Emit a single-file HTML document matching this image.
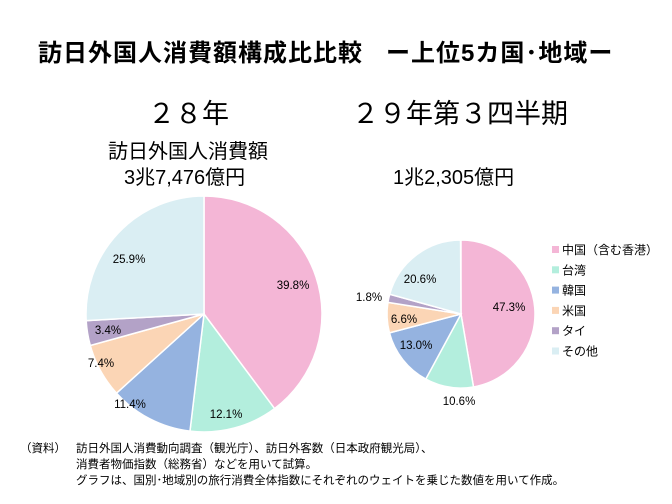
<!DOCTYPE html><html><head><meta charset="utf-8"><style>
body{margin:0;width:672px;height:504px;background:#fff;font-family:"Liberation Sans","Noto Sans CJK JP",sans-serif;position:relative;overflow:hidden}
.t{position:absolute;white-space:nowrap;color:#000}
</style></head><body>
<div class="t" style="left:38px;top:33px;font-size:24px;font-weight:bold;letter-spacing:1px">訪日外国人消費額構成比比較&nbsp;&nbsp;&nbsp;ー上位5カ国･地域ー</div>
<div class="t" style="left:148px;top:92px;font-size:27px">２８年</div>
<div class="t" style="left:352px;top:92px;font-size:27px">２９年第３四半期</div>
<div class="t" style="left:108px;top:135px;font-size:20px">訪日外国人消費額</div>
<div class="t" style="left:124px;top:161px;font-size:20px">3兆7,476億円</div>
<div class="t" style="left:393px;top:161px;font-size:20px">1兆2,305億円</div>
<svg id="s" width="672" height="504" style="position:absolute;left:0;top:0"></svg>
<div class="t" style="left:20px;top:441px;font-size:11.5px;line-height:16px">（資料）</div>
<div class="t" style="left:76px;top:441px;font-size:11.5px;line-height:16px">訪日外国人消費動向調査（観光庁）、訪日外客数（日本政府観光局）、<br>消費者物価指数（総務省）などを用いて試算。<br>グラフは、国別･地域別の旅行消費全体指数にそれぞれのウェイトを乗じた数値を用いて作成。</div>
<script>
var C=["#F4B6D6","#B3EEDD","#95B3E0","#FBD5B5","#B3A2C7","#DAEEF3"];
var s=document.getElementById("s"),h="";
function pie(cx,cy,r,v){var a=-Math.PI/2;v.forEach(function(p,i){var b=a+p/100*2*Math.PI;var x1=cx+r*Math.cos(a),y1=cy+r*Math.sin(a),x2=cx+r*Math.cos(b),y2=cy+r*Math.sin(b);h+='<path d="M'+cx+','+cy+'L'+x1+','+y1+'A'+r+','+r+' 0 '+(p>50?1:0)+' 1 '+x2+','+y2+'Z" fill="'+C[i]+'" stroke="#fff" stroke-width="1.5"/>';a=b;});}
pie(204,314,118,[39.8,12.1,11.4,7.4,3.4,25.9]);
pie(461,314,74,[47.3,10.6,13.0,6.6,1.8,20.6]);
var L=[[293,289,"39.8%"],[226,418,"12.1%"],[130,408,"11.4%"],[101,367,"7.4%"],[108,334,"3.4%"],[129,263,"25.9%"],[509,311,"47.3%"],[459,405,"10.6%"],[416,349,"13.0%"],[404,323,"6.6%"],[369,301,"1.8%"],[420,283,"20.6%"]];
L.forEach(function(l){h+='<text x="'+l[0]+'" y="'+l[1]+'" font-size="11.5" text-anchor="middle" font-family="Liberation Sans,sans-serif">'+l[2]+'</text>';});
var N=["中国（含む香港）","台湾","韓国","米国","タイ","その他"];
N.forEach(function(n,i){var y=250+i*20.3;h+='<rect x="552" y="'+(y-4)+'" width="7" height="7" fill="'+C[i]+'"/><text x="562" y="'+(y+4)+'" font-size="12" font-family="Liberation Sans,Noto Sans CJK JP,sans-serif">'+n+'</text>';});
s.innerHTML=h;
</script>
</body></html>
